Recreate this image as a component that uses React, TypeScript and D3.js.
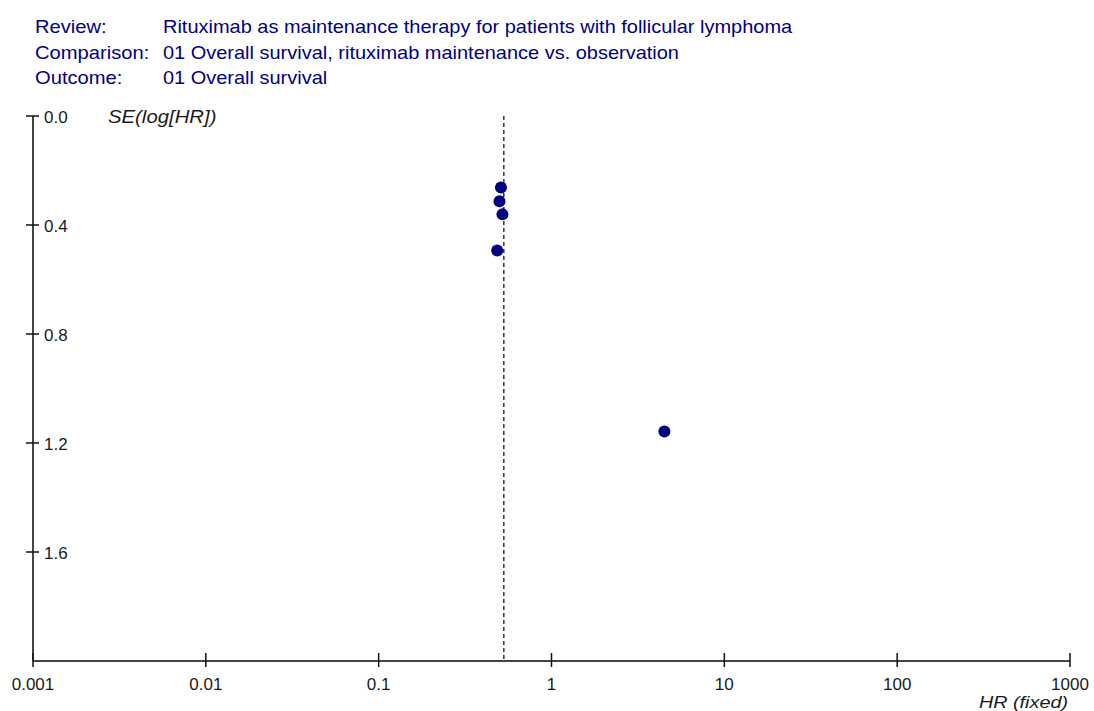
import React from "react";
import * as d3 from "d3";

const headerLabels = ["Review:", "Comparison:", "Outcome:"];
const headerValues = [
  "Rituximab as maintenance therapy for patients with follicular lymphoma",
  "01 Overall survival, rituximab maintenance vs. observation",
  "01 Overall survival",
];
const studyHR = [0.51, 0.5, 0.52, 0.485, 4.5];
const studySE = [0.262, 0.313, 0.361, 0.494, 1.158];
const pooledHR = 0.53;
const xTicks = [0.001, 0.01, 0.1, 1, 10, 100, 1000];
const xTickLabels = ["0.001", "0.01", "0.1", "1", "10", "100", "1000"];
const yTicks = [0, 0.4, 0.8, 1.2, 1.6];
const yTickLabels = ["0.0", "0.4", "0.8", "1.2", "1.6"];
const yLabel = "SE(log[HR])";
const xLabel = "HR (fixed)";

const font = "Arial, 'Liberation Sans', sans-serif";

function SText(props: {
  x: number; y: number; sx: number; size: number; fill: string;
  italic?: boolean; anchor?: string; children: React.ReactNode;
}) {
  const { x, y, sx, size, fill, italic, anchor, children } = props;
  return (
    <g transform={`translate(${x},${y}) scale(${sx},1)`}>
      <text x={0} y={0} fontFamily={font} fontSize={size} fill={fill}
        fontStyle={italic ? "italic" : "normal"} textAnchor={anchor || "start"}>
        {children}
      </text>
    </g>
  );
}

export default function App() {
  const W = 1094, H = 711;
  const left = 33, right = 1070, top = 116, bottom = 661;
  const x = d3.scaleLog().domain([0.001, 1000]).range([left, right]);
  const y = d3.scaleLinear().domain([0, 2]).range([top, bottom]);
  const navy = "#000080";
  const axisCol = "#444";
  const textCol = "#1a1a1a";
  return (
    <svg width={W} height={H} style={{ position: "absolute", left: 0, top: 0, background: "#fff" }}>
      <rect x={0} y={0} width={W} height={H} fill="#fff" />
      {headerLabels.map((l, i) => (
        <g key={l}>
          <SText x={35} y={33 + i * 25.5} sx={1.12} size={18} fill={navy}>{l}</SText>
          <SText x={163} y={33 + i * 25.5} sx={1.11} size={18} fill={navy}>{headerValues[i]}</SText>
        </g>
      ))}
      {/* y axis */}
      <line x1={left} x2={left} y1={top} y2={bottom} stroke={axisCol} strokeWidth={2} />
      {yTicks.map((t, i) => (
        <g key={t}>
          <line x1={left - 7} x2={left + 6} y1={y(t)} y2={y(t)} stroke="#111" strokeWidth={1.5} />
          <text x={44} y={y(t) + 6.5} fontFamily={font} fontSize={17} fill={textCol}>{yTickLabels[i]}</text>
        </g>
      ))}
      <SText x={108} y={y(0) + 6.5} sx={1.13} size={18} italic fill={textCol}>{yLabel}</SText>
      {/* x axis */}
      <line x1={left} x2={right} y1={bottom} y2={bottom} stroke={axisCol} strokeWidth={2} />
      {xTicks.map((t, i) => (
        <g key={t}>
          <line x1={x(t)} x2={x(t)} y1={bottom - 8} y2={bottom + 6} stroke="#111" strokeWidth={1.5} />
          <text x={x(t)} y={bottom + 29} textAnchor="middle" fontFamily={font} fontSize={17} fill={textCol}>{xTickLabels[i]}</text>
        </g>
      ))}
      <SText x={1068} y={708} sx={1.2} size={16.5} italic anchor="end" fill={textCol}>{xLabel}</SText>
      {/* pooled estimate */}
      <line x1={x(pooledHR)} x2={x(pooledHR)} y1={top} y2={bottom} stroke="#111" strokeWidth={1.3} strokeDasharray="4,3" />
      {studyHR.map((hr, i) => (
        <circle key={i} cx={x(hr)} cy={y(studySE[i])} r={6} fill={navy} />
      ))}
    </svg>
  );
}
